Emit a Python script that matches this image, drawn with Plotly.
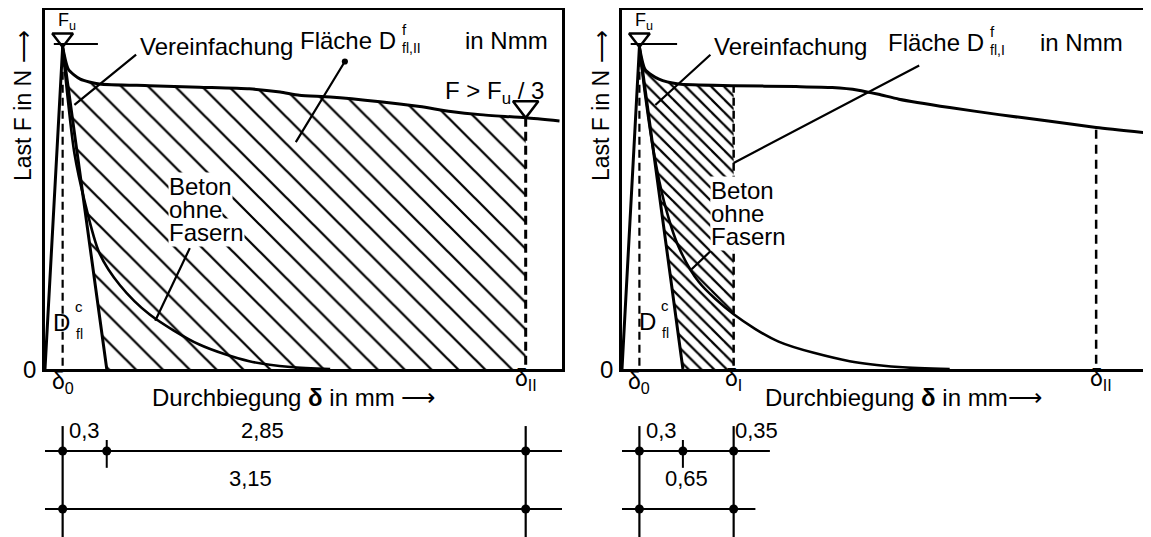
import plotly.graph_objects as go

W, H = 1151, 537

# ---------------- data (deflection in mm, load as F / F_u) ----------------
delta_0 = 0.12          # deflection at peak load
seg_simpl = 0.3         # delta_0 -> end of simplified descending branch
seg_I = 0.35            # -> delta_I
seg_II = 2.85           # -> delta_II
F_u = 1.0

# left panel: fibre concrete curve and plain concrete curve
fiber_left_x = [0.0, 0.12, 0.16, 0.24, 0.37, 0.71, 1.05, 1.39, 1.60, 1.73, 1.94, 2.28, 2.55, 2.76, 2.96, 3.27, 3.50]
fiber_left_y = [0.0, 1.00, 0.93, 0.90, 0.885, 0.88, 0.875, 0.87, 0.86, 0.85, 0.845, 0.83, 0.815, 0.80, 0.79, 0.78, 0.77]
plain_left_x = [0.12, 0.15, 0.20, 0.27, 0.37, 0.51, 0.71, 1.05, 1.39, 1.67, 1.94]
plain_left_y = [1.00, 0.86, 0.67, 0.52, 0.36, 0.26, 0.17, 0.076, 0.024, 0.006, 0.0]

# right panel
fiber_right_x = [0.0, 0.12, 0.16, 0.255, 0.39, 0.77, 1.20, 1.45, 1.63, 1.77, 1.91, 2.26, 2.60, 2.94, 3.27, 3.69]
fiber_right_y = [0.0, 1.00, 0.93, 0.90, 0.885, 0.88, 0.877, 0.874, 0.866, 0.853, 0.838, 0.812, 0.79, 0.77, 0.75, 0.73]
plain_right_x = [0.12, 0.16, 0.22, 0.29, 0.39, 0.53, 0.77, 1.08, 1.57, 1.91, 2.26]
plain_right_y = [1.00, 0.85, 0.67, 0.52, 0.38, 0.27, 0.17, 0.085, 0.024, 0.006, 0.0]

# ---------------- derived positions ----------------
d_simpl = delta_0 + seg_simpl
d_I = d_simpl + seg_I
d_II = d_simpl + seg_II


def fmt(v):
    return f"{v:.2f}".rstrip("0").rstrip(".").replace(".", ",")


def y_at(xs, ys, xq):
    for i in range(len(xs) - 1):
        if xs[i] <= xq <= xs[i + 1]:
            t = (xq - xs[i]) / (xs[i + 1] - xs[i])
            return ys[i] + t * (ys[i + 1] - ys[i])
    return ys[-1]


# ---------------- layout geometry (pixels) ----------------
LX0, LX1 = 37, 554
RX0, RX1 = 614, 1149
TOP, BOT = 2, 361
PXY = 322                       # px per unit of F/F_u
XL_RANGE = [0, (LX1 - LX0) / 147]
XR_RANGE = [0, (RX1 - RX0) / 145]
Y_RANGE = [0, (BOT - TOP) / PXY]

DIM_TOP = 415
Y3_RANGE = [-0.621, 1.483]

FONT = "Liberation Sans, Arial, sans-serif"
LW = 3

fig = go.Figure()


def line(x, y, xa, ya, width=LW, dash=None, shape="linear", smoothing=0.8):
    fig.add_trace(go.Scatter(
        x=x, y=y, mode="lines", xaxis=xa, yaxis=ya, hoverinfo="skip",
        line=dict(color="black", width=width, dash=dash, shape=shape,
                  smoothing=smoothing if shape == "spline" else None),
        cliponaxis=False, showlegend=False))


def hatch(px, py, xa, ya, size, solidity):
    fig.add_trace(go.Scatter(
        x=px, y=py, mode="lines", fill="toself", xaxis=xa, yaxis=ya,
        hoverinfo="skip", line=dict(width=0, color="rgba(0,0,0,0)"),
        fillcolor="white",
        fillpattern=dict(shape="\\", size=size, solidity=solidity,
                         fgcolor="black", bgcolor="white", fillmode="replace"),
        showlegend=False))


def tri_marker(x, y, xa, ya, size):
    fig.add_trace(go.Scatter(x=[x], y=[y + 0.5 * size / PXY], mode="markers", xaxis=xa, yaxis=ya,
                             marker=dict(symbol="triangle-down-open", size=size, color="black",
                                         line=dict(width=2.5, color="black")),
                             hoverinfo="skip", cliponaxis=False, showlegend=False))


def panel(fx, fy, plx, ply, xa, ya, hatch_end, hatch_size, hatch_sol, bar_right):
    hx = [fx[i] for i in range(1, len(fx)) if fx[i] <= hatch_end + 1e-9]
    hy = [fy[i] for i in range(1, len(fx)) if fx[i] <= hatch_end + 1e-9]
    if hx[-1] < hatch_end:
        hx.append(hatch_end)
        hy.append(y_at(fx, fy, hatch_end))
    hatch(hx + [hatch_end, d_simpl, delta_0], hy + [0, 0, F_u], xa, ya, hatch_size, hatch_sol)
    # triangle D^c_fl (rising branch + simplification)
    line([fx[0], delta_0, d_simpl], [fy[0], F_u, 0], xa, ya, width=LW)
    # fibre concrete curve
    line(fx[1:], fy[1:], xa, ya, width=LW, shape="spline", smoothing=0.6)
    # plain concrete curve
    line(plx, ply, xa, ya, width=2.6, shape="spline", smoothing=0.8)
    # delta_0 dashed
    line([delta_0, delta_0], [-0.03, F_u], xa, ya, width=2.2, dash="8px,5px")
    # peak marker: triangle + bar
    tri_marker(delta_0, F_u, xa, ya, 18)
    line([delta_0 - 0.06, delta_0 + bar_right], [F_u + 3 / PXY] * 2, xa, ya, width=2)


# ---- left panel ----
panel(fiber_left_x, fiber_left_y, plain_left_x, plain_left_y, "x", "y", d_II, 19, 0.12, 0.24)
yII_L = y_at(fiber_left_x, fiber_left_y, d_II)
line([d_II, d_II], [-0.03, yII_L], "x", "y", width=3, dash="9px,5px")
tri_marker(d_II, yII_L, "x", "y", 22)

# ---- right panel ----
panel(fiber_right_x, fiber_right_y, plain_right_x, plain_right_y, "x2", "y2", d_I, 9, 0.25, 0.26)
yI_R = y_at(fiber_right_x, fiber_right_y, d_I)
line([d_I, d_I], [-0.03, yI_R], "x2", "y2", width=2.5, dash="8px,5px")
yII_R = y_at(fiber_right_x, fiber_right_y, d_II)
line([d_II, d_II], [-0.03, yII_R], "x2", "y2", width=2.5, dash="9px,6px")


# ---- dimension diagrams ----
def dim(xa, ya, ticks1, line1, line2, short_tick):
    line(line1, [1, 1], xa, ya, width=2.2)
    line(line2, [0, 0], xa, ya, width=2.2)
    for t in (ticks1[0], ticks1[-1]):
        line([t, t], [1.43, -0.62], xa, ya, width=2.2)
    line([short_tick, short_tick], [1.19, 0.71], xa, ya, width=2)
    fig.add_trace(go.Scatter(x=ticks1 + [ticks1[0], ticks1[-1]], y=[1] * len(ticks1) + [0, 0],
                             mode="markers", xaxis=xa, yaxis=ya, hoverinfo="skip",
                             marker=dict(symbol="circle", size=9, color="black"),
                             cliponaxis=False, showlegend=False))


dim("x", "y3", [delta_0, d_simpl, d_II], [delta_0 - 0.154, d_II + 0.27], [delta_0 - 0.154, d_II + 0.27], d_simpl)
dim("x2", "y4", [delta_0, d_simpl, d_I], [delta_0 - 0.154, d_I + 0.25], [delta_0 - 0.154, d_I + 0.15], d_simpl)

ann = []


def txt(x, y, s, size=24, xanchor="center", yanchor="middle", xref="paper", yref="paper",
        angle=0, bg=None):
    if xref == "paper":
        x = x / W
    if yref == "paper":
        y = 1 - y / H
    a = dict(x=x, y=y, xref=xref, yref=yref, text=s, showarrow=False,
             xanchor=xanchor, yanchor=yanchor, textangle=angle,
             font=dict(family=FONT, size=size, color="black"))
    if bg:
        a["bgcolor"] = bg
        a["borderpad"] = 0
    ann.append(a)


def leader(xh, yh, xt, yt, xa, ya, head=0, width=2.2):
    ann.append(dict(x=xh, y=yh, ax=xt, ay=yt, xref=xa, yref=ya, axref=xa, ayref=ya,
                    text="", showarrow=True, arrowhead=head, arrowsize=0.7,
                    arrowwidth=width, arrowcolor="black"))


# leader lines (drawn first so texts with white background sit on top)
leader(0.20, 0.82, 0.63, 0.98, "x", "y")
leader(2.04, 0.955, 1.70, 0.70, "x", "y", head=6)
leader(0.75, 0.15, 0.99, 0.38, "x", "y")
leader(0.23, 0.82, 0.62, 0.98, "x2", "y2")
leader(d_I, 0.64, 2.06, 0.945, "x2", "y2")
leader(0.48, 0.31, 0.62, 0.37, "x2", "y2")

# dimension labels
txt(delta_0 + seg_simpl / 2, 1.36, fmt(seg_simpl), 22, xref="x", yref="y3")
txt(254, 422, fmt(seg_II), 22)
txt(242, 470, fmt(seg_simpl + seg_II), 22)
txt(delta_0 + seg_simpl / 2, 1.36, fmt(seg_simpl), 22, xref="x2", yref="y4")
txt(d_I + 0.16, 1.36, fmt(seg_I), 22, xref="x2", yref="y4")
txt((delta_0 + d_I) / 2, 0.53, fmt(seg_simpl + seg_I), 22, xref="x2", yref="y4")

# axis texts
txt(15, 98, "Last F in N ⟶", 23, angle=-90)
txt(593, 98, "Last F in N ⟶", 23, angle=-90)
txt(21, 361, "0", 24)
txt(598, 361, "0", 24)
txt(delta_0, 374, "δ<sub>0</sub>", 23, xref="x")
txt(d_II, 371, "δ<sub>II</sub>", 23, xref="x")
txt(delta_0, 374, "δ<sub>0</sub>", 23, xref="x2")
txt(d_I, 371, "δ<sub>I</sub>", 23, xref="x2")
txt(d_II + 0.03, 371, "δ<sub>II</sub>", 23, xref="x2")
txt(142, 389, "Durchbiegung <b>δ</b> in mm ⟶", 24, xanchor="left")
txt(755, 389, "Durchbiegung <b>δ</b> in mm⟶", 24, xanchor="left")

# F_u labels
txt(delta_0 + 0.03, 13, "F<sub>u</sub>", 18, xref="x")
txt(delta_0 + 0.03, 13, "F<sub>u</sub>", 18, xref="x2")

# left panel labels
txt(130, 38, "Vereinfachung", 24, xanchor="left")
txt(390, 32, "Fläche D", 24, xanchor="right")
txt(392, 21, "f", 15, xanchor="left")
txt(392, 40, "fl,II", 14, xanchor="left")
txt(455, 32, "in Nmm", 24, xanchor="left")
txt(486, 84, "F > F<sub>u</sub> / 3", 24)
for yy, s in zip((179, 202, 225), ("Beton", "ohne", "Fasern")):
    txt(160, yy, s, 24, xanchor="left", bg="white")
txt(64, 314, "D", 24, xanchor="right")
txt(65, 298, "c", 15, xanchor="left")
txt(66, 326, "fl", 14, xanchor="left")

# right panel labels
txt(704, 38, "Vereinfachung", 24, xanchor="left")
txt(978, 34, "Fläche D", 24, xanchor="right")
txt(980, 23, "f", 15, xanchor="left")
txt(980, 42, "fl,I", 14, xanchor="left")
txt(1030, 34, "in Nmm", 24, xanchor="left")
for yy, s in zip((183, 205, 228), ("Beton", "ohne", "Fasern")):
    txt(702, yy, s, 24, xanchor="left", bg="white")
txt(650, 313, "D", 24, xanchor="right")
txt(651, 297, "c", 15, xanchor="left")
txt(652, 325, "fl", 14, xanchor="left")

axis_common = dict(showgrid=False, zeroline=False, showticklabels=False, ticks="",
                   showline=True, mirror=True, linecolor="black", linewidth=2.5)
ydom = [1 - BOT / H, 1 - TOP / H]
fig.update_layout(
    width=W, height=H, margin=dict(l=0, r=0, t=0, b=0),
    paper_bgcolor="white", plot_bgcolor="white", showlegend=False,
    xaxis=dict(domain=[LX0 / W, LX1 / W], range=XL_RANGE, anchor="y", **axis_common),
    yaxis=dict(domain=ydom, range=Y_RANGE, anchor="x", **axis_common),
    xaxis2=dict(domain=[RX0 / W, RX1 / W], range=XR_RANGE, anchor="y2", **axis_common),
    yaxis2=dict(domain=ydom, range=Y_RANGE, anchor="x2", **axis_common),
    yaxis3=dict(domain=[0, 1 - DIM_TOP / H], range=Y3_RANGE, anchor="x", visible=False),
    yaxis4=dict(domain=[0, 1 - DIM_TOP / H], range=Y3_RANGE, anchor="x2", visible=False),
    annotations=ann,
)

fig.write_html("out.html")
